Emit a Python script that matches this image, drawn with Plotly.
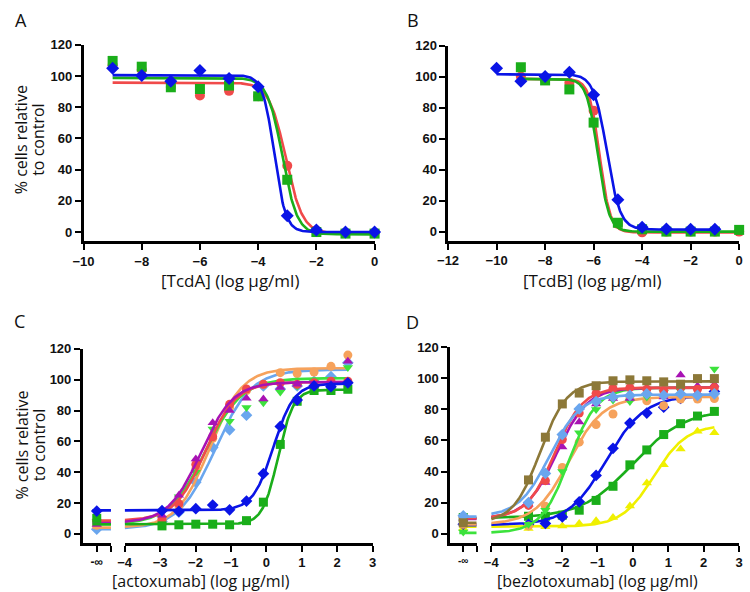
import numpy as np
import plotly.graph_objects as go

# ---------------- data ----------------
# Panel A  (TcdA, log ug/ml)
A_dose = [-9, -8, -7, -6, -5, -4, -3, -2, -1, 0]
A_red = [107, 104, 93, 87.5, 90.5, 87, 42.5, 1, -0.5, -0.5]
A_green = [109.7, 106, 92.8, 91.7, 93.9, 87, 33.5, 0, -1, -1]
A_blue = [105, 100.4, 96.6, 103.6, 98.5, 93.2, 10.4, 1.3, 0, 0]
# fitted curve parameters: bottom, top, logEC50, hill
A_red_fit = [-1, 95.8, -3.05, -1.5]
A_green_fit = [-1.5, 98.8, -3.17, -1.7]
A_blue_fit = [0, 100.6, -3.45, -2.2]

# Panel B  (TcdB)
B_dose_blue = [-10, -9, -8, -7, -6, -5, -4, -3, -2, -1]
B_dose = [-9, -8, -7, -6, -5, -4, -3, -2, -1, 0]
B_blue = [105.3, 97, 100, 102.8, 88.3, 20.5, 2.8, 1.7, 1.5, 1.5]
B_red = [100, 98, 96, 78, 5, -0.5, 0, 0, 0, 0]
B_green = [106, 97.5, 91.7, 70.3, 5.7, 1.5, 0, 0, 0, 1.1]
B_blue_fit = [1.3, 101.5, -5.45, -1.6]
B_red_fit = [-0.5, 98.5, -5.75, -2.0]
B_green_fit = [0, 98.5, -5.82, -1.9]

# Panels C / D : 3-fold dilutions from 200 ug/ml (log10)
mab_dose = [-2.947, -2.470, -1.992, -1.515, -1.038, -0.561,
            -0.084, 0.393, 0.870, 1.347, 1.824, 2.301]

# Panel C (actoxumab)
C_blue = [15, 14.5, 16.3, 18.6, 15.5, 21.2, 39, 69.7, 86.8, 96, 95.5, 98]
C_green = [5.1, 5.8, 6.2, 6.2, 5.8, 8.5, 20.5, 58, 86, 93, 93, 93.8]
C_red = [9, 19.5, 45, 63, 84, 94, 97, 98, 97, 98, 99, 99]
C_magenta = [12, 25, 48.5, 72, 80, 88, 87.5, 95, 97, 96, 97, 112]
C_lime = [10, 24, 40, 68, 73, 82, 85, 92, 96, 98, 100, 108]
C_lightblue = [8, 14, 33.5, 56, 67.5, 77, 96, 94, 96, 99, 102, 111]
C_orange = [9.4, 18, 42, 62, 82, 93, 97, 104.6, 104, 105, 108.7, 116]
C_zero = {"blue": 14.7, "green": 10, "red": 8.5, "magenta": 6,
          "lime": 8, "lightblue": 3, "orange": 5.5}
C_fit = {"blue": [15.2, 97.5, 0.2, 1.5], "green": [6.2, 93.5, 0.33, 2.0],
         "red": [8.5, 98.5, -1.72, 1.0], "magenta": [7, 98.5, -1.85, 0.95],
         "lime": [6, 101, -1.72, 0.85], "lightblue": [3, 106.5, -1.45, 0.85],
         "orange": [4, 107.5, -1.6, 0.95]}

# Panel D (bezlotoxumab)
D_brown = [34.6, 62.1, 83.5, 90.5, 95.2, 98.4, 99, 98.4, 97.7, 96.2, 99.8, 99.8]
D_yellow = [3.4, 4.5, 5, 6.5, 8.3, 10.4, 17.8, 32.6, 44.3, 54.5, 65.9, 65]
D_green = [11.2, 11.2, 11.9, 15.1, 21.4, 30.5, 44.3, 53.9, 63.8, 70.8, 75.7, 78.7]
D_blue = [6, 6.6, 10.8, 20.5, 37.5, 54.9, 71.2, 77.6, 81.4, 87, 89, 91.5]
D_lightblue = [20, 38.8, 63.8, 80.3, 85, 88, 89, 90, 89, 90, 89, 90]
D_magenta = [18.9, 33, 55.8, 71.8, 83.5, 87, 87, 90, 88, 102.2, 95, 96]
D_red = [18.2, 34.1, 60.6, 77.6, 90.3, 93.5, 94, 93, 92, 94, 93, 94]
D_lime = [6, 15, 40, 65, 80, 86, 85, 88, 91, 92, 93, 106]
D_orange = [5, 17.6, 42.6, 58.9, 70.2, 77, 87, 85.5, 82.4, 86.6, 86.6, 87]
D_zero = {"brown": 7, "yellow": 3.5, "green": 10.4, "blue": 6, "lightblue": 11.5,
          "magenta": 10, "red": 10.5, "lime": 1, "orange": 6}
D_fit = {"brown": [7, 98, -2.62, 1.15], "yellow": [4.5, 70, 0.6, 0.95],
         "green": [10, 80, 0.0, 0.6], "blue": [5.5, 89, -0.75, 0.8],
         "lightblue": [11, 89.5, -2.35, 1.0], "magenta": [9.5, 94, -2.15, 1.0],
         "red": [10, 94, -2.2, 1.1], "lime": [0.5, 94, -1.8, 1.1],
         "orange": [6, 88, -1.8, 0.9]}

x_ticks_A = [-10, -8, -6, -4, -2, 0]
x_ticks_B = [-12, -10, -8, -6, -4, -2, 0]
x_ticks_CD = [-4, -3, -2, -1, 0, 1, 2, 3]
y_ticks = [0, 20, 40, 60, 80, 100, 120]

# ---------------- styling ----------------
COL = {"red": "#F04A4A", "green": "#1AAE1A", "blue": "#0A14E6",
       "magenta": "#A812B4", "lime": "#3CE23C", "lightblue": "#6AA6EE",
       "orange": "#F6A25C", "brown": "#8C7838", "yellow": "#F0F000"}
SYM = {"red": "circle", "green": "square", "blue": "diamond",
       "magenta": "triangle-up", "lime": "triangle-down", "lightblue": "diamond",
       "orange": "circle", "brown": "square", "yellow": "triangle-up"}

W, H = 750, 592


def px(x):
    return x / W


def py(y):
    return 1 - y / H


def curve(fit, x0, x1):
    b, t, c, h = fit
    xs = np.linspace(x0, x1, 300)
    ys = b + (t - b) / (1 + 10 ** ((c - xs) * h))
    return xs, ys


fig = go.Figure()


def add_series(xa, ya, doses, vals, fit, key, msize, lw=2.6, x0=None, x1=None):
    x0 = doses[0] if x0 is None else x0
    x1 = doses[-1] if x1 is None else x1
    xs, ys = curve(fit, x0, x1)
    fig.add_trace(go.Scatter(x=xs, y=ys, mode="lines", xaxis=xa, yaxis=ya,
                             line=dict(color=COL[key], width=lw),
                             cliponaxis=False, hoverinfo="skip"))
    fig.add_trace(go.Scatter(x=doses, y=vals, mode="markers", xaxis=xa, yaxis=ya,
                             marker=dict(color=COL[key], symbol=SYM[key], size=msize),
                             cliponaxis=False))


# Panel A
add_series("x", "y", A_dose, A_red, A_red_fit, "red", 10)
add_series("x", "y", A_dose, A_green, A_green_fit, "green", 10)
add_series("x", "y", A_dose, A_blue, A_blue_fit, "blue", 10)
# Panel B
add_series("x2", "y2", B_dose, B_red, B_red_fit, "red", 10)
add_series("x2", "y2", B_dose, B_green, B_green_fit, "green", 10)
add_series("x2", "y2", B_dose_blue, B_blue, B_blue_fit, "blue", 10)


def add_zero(xa, ya, key, zero, bottom, msize, lw=2.6):
    fig.add_trace(go.Scatter(x=[-0.3, 1.05], y=[bottom, bottom], mode="lines",
                             xaxis=xa, yaxis=ya, line=dict(color=COL[key], width=lw),
                             cliponaxis=False, hoverinfo="skip"))
    fig.add_trace(go.Scatter(x=[0], y=[zero], mode="markers", xaxis=xa, yaxis=ya,
                             marker=dict(color=COL[key], symbol=SYM[key], size=msize),
                             cliponaxis=False))


# Panel C
C_series = [("lightblue", C_lightblue), ("orange", C_orange), ("lime", C_lime),
            ("red", C_red), ("magenta", C_magenta), ("green", C_green), ("blue", C_blue)]
for key, vals in C_series:
    add_zero("x3", "y3", key, C_zero[key], C_fit[key][0], 9)
    add_series("x4", "y3", mab_dose, vals, C_fit[key], key, 9, x0=-4)

# Panel D
D_series = [("yellow", D_yellow), ("green", D_green), ("blue", D_blue),
            ("orange", D_orange), ("lime", D_lime), ("magenta", D_magenta),
            ("red", D_red), ("lightblue", D_lightblue), ("brown", D_brown)]
for key, vals in D_series:
    add_zero("x5", "y4", key, D_zero[key], D_fit[key][0], 9)
    add_series("x6", "y4", mab_dose, vals, D_fit[key], key, 9, x0=-4)

TICKFONT = dict(family="Liberation Sans, Arial", size=13, color="#111", weight="bold")
TITLEFONT = "Open Sans, Liberation Sans, Arial"
axis_common = dict(showline=True, linecolor="black", linewidth=2.6, ticks="outside",
                   ticklen=6, tickwidth=2, tickcolor="black", showgrid=False,
                   zeroline=False, tickfont=TICKFONT, fixedrange=True,
                   ticklabeloverflow="allow")


def xax(dom, rng, anchor, tickvals, ticktext=None, tfont=None):
    d = dict(axis_common, domain=[px(dom[0]), px(dom[1])], range=rng, anchor=anchor,
             tickmode="array", tickvals=tickvals)
    if ticktext is not None:
        d["ticktext"] = ticktext
    if tfont is not None:
        d["tickfont"] = tfont
    return d


def yax(dom, anchor):
    return dict(axis_common, domain=[py(dom[0]), py(dom[1])], range=[-6, 120],
                anchor=anchor, tickmode="array", tickvals=y_ticks)


inf_font_C = dict(family="Liberation Sans, Arial", size=12, color="#111", weight="bold")
inf_font_D = dict(family="Liberation Sans, Arial", size=10, color="#111", weight="bold")

fig.update_layout(
    width=W, height=H, margin=dict(l=0, r=0, t=0, b=0),
    paper_bgcolor="white", plot_bgcolor="white", showlegend=False,
    xaxis=xax((74, 371), [-10, 0], "y", x_ticks_A),
    yaxis=yax((237.2, 38.3), "x"),
    xaxis2=xax((446, 743), [-12, 0], "y2", x_ticks_B),
    yaxis2=yax((236.7, 39), "x2"),
    xaxis3=xax((73, 102), [-1, 1.0001], "y3", [0, 1], ["-∞", ""], inf_font_C),
    xaxis4=xax((116, 369), [-4, 3], "y3", x_ticks_CD),
    yaxis3=yax((542.4, 346), "x3"),
    xaxis5=xax((448, 475), [-1, 1.0001], "y4", [0, 1], ["-∞", ""], inf_font_D),
    xaxis6=xax((490, 743), [-4, 3], "y4", x_ticks_CD),
    yaxis4=yax((542.4, 344.3), "x5"),
)

ann = []


def text(x, y, s, size, angle=0):
    ann.append(dict(x=px(x), y=py(y), xref="paper", yref="paper", text=s,
                    showarrow=False, textangle=angle, xanchor="center", yanchor="middle",
                    font=dict(family=TITLEFONT, size=size, color="#111")))


text(10, 13, "A", 18)
text(410, 13, "B", 18)
text(9, 318, "C", 18)
text(410, 319, "D", 18)
text(223, 277, "[TcdA] (log µg/ml)", 17)
text(593, 277, "[TcdB] (log µg/ml)", 17)
text(194, 581, "[actoxumab] (log µg/ml)", 16)
text(598, 581, "[bezlotoxumab] (log µg/ml)", 16)
for yc in (134, 443):
    text(11, yc, "% cells relative", 16, -90)
    text(28, yc, "to control", 16, -90)
fig.update_layout(annotations=ann)

fig.write_html("out.html",
               config={"displayModeBar": False, "staticPlot": True},
               post_script="document.body.style.margin='0px';"
                           "document.body.style.overflow='hidden';")
